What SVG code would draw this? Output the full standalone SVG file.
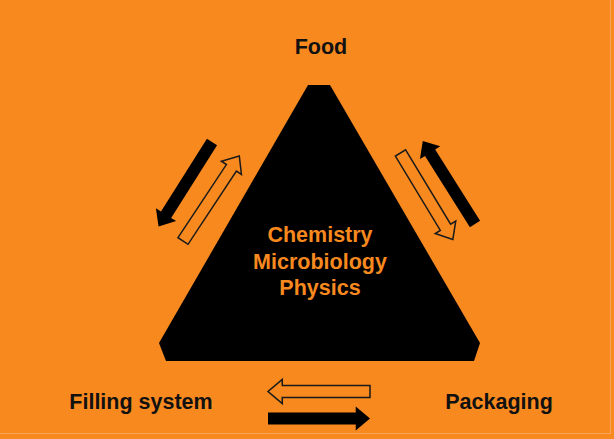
<svg xmlns="http://www.w3.org/2000/svg" width="614" height="439" viewBox="0 0 614 439">
  <style>
    .lbl { font-family: "Liberation Sans", Arial, sans-serif; font-weight: bold; font-size: 21.5px; fill: #111; text-anchor: middle; }
    .inner { font-family: "Liberation Sans", Arial, sans-serif; font-weight: bold; font-size: 21.5px; fill: #F7891F; text-anchor: middle; }
    .solid { fill: #000; }
    .hollow { fill: #F7891F; stroke: #1a1a1a; stroke-width: 1.5; stroke-linejoin: miter; }
  </style>
  <defs>
    <path id="arrow" d="M0,-6 L86,-6 L86,-12 L100,0 L86,12 L86,6 L0,6 Z"/>
  </defs>
  <rect x="0" y="0" width="614" height="439" fill="#F7891F"/>
  <line x1="0" y1="433.5" x2="611" y2="433.5" stroke="#F9A458" stroke-width="1"/>
  <line x1="610.5" y1="0" x2="610.5" y2="434" stroke="#F9A458" stroke-width="1"/>

  <g id="core">
    <polygon points="308,85 330,85 480,343 474,361 166,361 159,343" fill="#000"/>
    <text class="inner" x="320" y="242">Chemistry</text>
    <text class="inner" x="320" y="268.5">Microbiology</text>
    <text class="inner" x="320" y="295">Physics</text>
  </g>

  <g id="food">
    <text class="lbl" x="321" y="54">Food</text>
  </g>
  <g id="filling">
    <text class="lbl" x="141" y="409">Filling system</text>
  </g>
  <g id="packaging">
    <text class="lbl" x="499" y="409">Packaging</text>
  </g>

  <g id="connectors">
    <use href="#arrow" class="solid" transform="translate(212,142) rotate(122.3)"/>
    <use href="#arrow" class="hollow" transform="translate(183,241) rotate(-56.5) scale(1.02,1)"/>
    <use href="#arrow" class="hollow" transform="translate(400.5,153) rotate(58.8) scale(1.01,1)"/>
    <use href="#arrow" class="solid" transform="translate(475,224) rotate(-122.2) scale(0.98,1)"/>
    <use href="#arrow" class="hollow" transform="translate(370,391.5) rotate(180) scale(1.02,1)"/>
    <use href="#arrow" class="solid" transform="translate(268,418.5) scale(1.02,1)"/>
  </g>
</svg>
